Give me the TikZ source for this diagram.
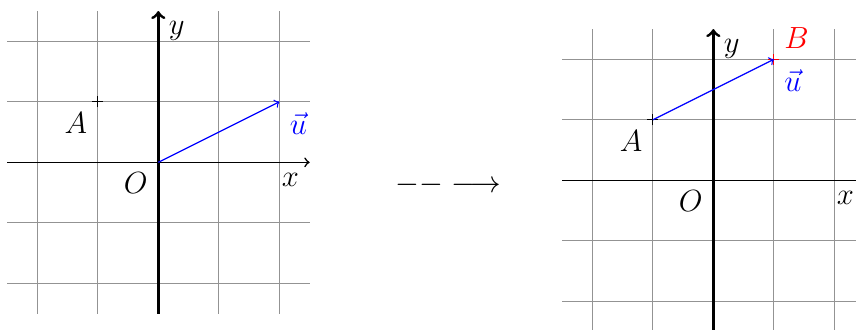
\documentclass[tikz,border=0pt]{standalone}
\begin{document}
\begin{tikzpicture}[
  gridline/.style={gray!85, line width=0.6pt},
  xaxisline/.style={->, line width=0.75pt},
  yaxisline/.style={->, line width=1.4pt},
  vecline/.style={->, blue, line width=0.6pt},
  marker/.style={line width=0.6pt},
  lbl/.style={font=\Large, inner sep=4.8pt},
]
\useasboundingbox (-2.617,-2.755) rectangle (11.532,2.683);
\clip (-2.617,-2.755) rectangle (11.532,2.683);

% ---------- left panel ----------
\begin{scope}
  \draw[gridline] (-2.5,-2.5) grid (2.5,2.5);
  \coordinate (xL1) at (-2.5,0);
  \coordinate (xR1) at (2.5,0);
  \coordinate (yB1) at (0,-2.5);
  \coordinate (yT1) at (0,2.5);
  \coordinate (O1) at (0,0);
  \coordinate (A1) at (-1,1);
  \coordinate (U1) at (2,1);
  \draw[xaxisline] (xL1) -- (xR1);
  \draw[yaxisline] (yB1) -- (yT1);
  \node[lbl, below left] (xlab1) at (xR1) {$x$};
  \node[lbl, below right] (ylab1) at (yT1) {$y$};
  \node[lbl, below left] (Olab1) at (O1) {$O$};
  \draw[marker] (A1) +(-0.09,0) -- +(0.09,0) (A1) +(0,-0.09) -- +(0,0.09);
  \node[lbl, below left] (Alab1) at (A1) {$A$};
  \draw[vecline] (O1) -- (U1);
  \node[lbl, below right, blue] (ulab1) at (U1) {$\vec{u}$};
\end{scope}

% ---------- middle arrow ----------
\node[font=\fontsize{13.8}{16}\selectfont] (mid) at (4.788,-0.38) {$--\longrightarrow$};

% ---------- right panel ----------
\begin{scope}[shift={(9.174,-0.298)}]
  \draw[gridline] (-2.5,-2.5) grid (2.5,2.5);
  \coordinate (xL2) at (-2.5,0);
  \coordinate (xR2) at (2.5,0);
  \coordinate (yB2) at (0,-2.5);
  \coordinate (yT2) at (0,2.5);
  \coordinate (O2) at (0,0);
  \coordinate (A2) at (-1,1);
  \coordinate (B2) at (1,2);
  \draw[xaxisline] (xL2) -- (xR2);
  \draw[yaxisline] (yB2) -- (yT2);
  \node[lbl, below left] (xlab2) at (xR2) {$x$};
  \node[lbl, below right] (ylab2) at (yT2) {$y$};
  \node[lbl, below left] (Olab2) at (O2) {$O$};
  \draw[marker] (A2) +(-0.09,0) -- +(0.09,0) (A2) +(0,-0.09) -- +(0,0.09);
  \draw[marker, red] (B2) +(-0.09,0) -- +(0.09,0) (B2) +(0,-0.09) -- +(0,0.09);
  \node[lbl, below left] (Alab2) at (A2) {$A$};
  \node[lbl, above right, red] (Blab2) at (B2) {$B$};
  \draw[vecline] (A2) -- (B2);
  \node[lbl, below right, blue] (ulab2) at (B2) {$\vec{u}$};
\end{scope}
\end{tikzpicture}
\end{document}
